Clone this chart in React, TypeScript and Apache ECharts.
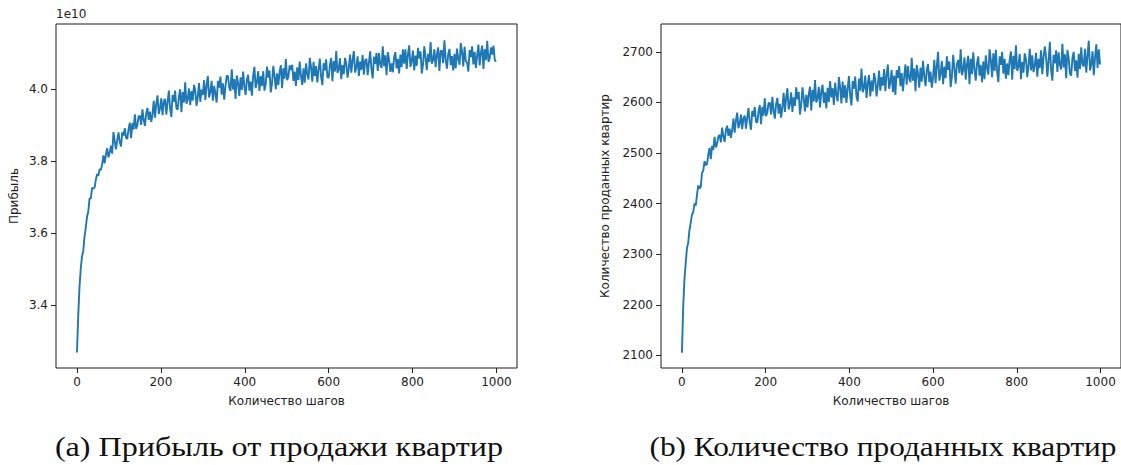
import React, { useEffect, useRef } from "react";
import * as echarts from "echarts";

// Simulation steps at which values are plotted: 0, 3, 6, ..., 999
const steps: number[] = Array.from({ length: 334 }, (_, i) => i * 3);

// Profit from flat sales, in units of 1e10
const profitE10: number[] = [
  3.268, 3.37, 3.45, 3.5, 3.535, 3.55, 3.59, 3.615, 3.645, 3.66,
  3.696, 3.695, 3.725, 3.723, 3.726, 3.748, 3.763, 3.759, 3.777, 3.775,
  3.79, 3.815, 3.793, 3.818, 3.835, 3.81, 3.823, 3.842, 3.82, 3.88,
  3.854, 3.832, 3.858, 3.879, 3.852, 3.84, 3.879, 3.87, 3.891, 3.864,
  3.861, 3.889, 3.906, 3.863, 3.905, 3.887, 3.929, 3.889, 3.899, 3.924,
  3.925, 3.9, 3.943, 3.914, 3.897, 3.932, 3.947, 3.914, 3.937, 3.908,
  3.929, 3.967, 3.92, 3.958, 3.982, 3.93, 3.945, 3.974, 3.927, 3.965,
  3.972, 3.928, 3.964, 3.995, 3.946, 3.922, 3.983, 3.964, 3.995, 3.946,
  3.942, 3.978, 3.999, 3.935, 3.991, 3.962, 4.018, 3.959, 3.97, 4.001,
  3.955, 3.994, 3.967, 4.011, 3.995, 3.953, 3.977, 4.016, 3.964, 3.998,
  3.983, 4.024, 3.969, 4.01, 4.036, 3.976, 3.991, 4.022, 3.967, 4.008,
  3.987, 3.962, 4.022, 4.003, 4.034, 3.984, 4.015, 3.97, 4.006, 4.037,
  4.035, 4.004, 3.994, 4.054, 3.998, 4.027, 3.972, 4.037, 4.016, 3.98,
  4.032, 3.997, 4.048, 4.008, 3.983, 4.024, 4.039, 3.995, 4.02, 3.981,
  4.036, 4.061, 4.002, 4.018, 4.049, 3.994, 4.035, 4.008, 4.049, 3.995,
  4.013, 4.062, 4.031, 4.051, 3.99, 4.015, 4.064, 4.035, 3.999, 4.043,
  4.01, 4.046, 4.066, 4.002, 4.057, 4.028, 4.083, 4.024, 4.034, 4.065,
  4.052, 4.067, 4.022, 4.048, 4.008, 4.06, 4.025, 4.076, 4.036, 4.011,
  4.057, 4.017, 4.071, 4.041, 4.026, 4.086, 4.06, 4.02, 4.075, 4.035,
  4.063, 4.018, 4.054, 4.084, 4.034, 4.01, 4.071, 4.051, 4.082, 4.033,
  4.03, 4.066, 4.086, 4.021, 4.077, 4.048, 4.105, 4.044, 4.054, 4.085,
  4.027, 4.066, 4.041, 4.086, 4.071, 4.031, 4.056, 4.095, 4.045, 4.08,
  4.105, 4.045, 4.06, 4.09, 4.036, 4.076, 4.053, 4.094, 4.039, 4.079,
  4.083, 4.038, 4.073, 4.104, 4.054, 4.029, 4.089, 4.069, 4.1, 4.05,
  4.099, 4.068, 4.058, 4.118, 4.063, 4.093, 4.038, 4.102, 4.082, 4.047,
  4.071, 4.046, 4.087, 4.102, 4.057, 4.083, 4.043, 4.095, 4.06, 4.11,
  4.07, 4.11, 4.055, 4.095, 4.121, 4.061, 4.076, 4.106, 4.051, 4.092,
  4.064, 4.114, 4.084, 4.104, 4.043, 4.068, 4.118, 4.087, 4.052, 4.097,
  4.075, 4.13, 4.07, 4.08, 4.11, 4.06, 4.095, 4.115, 4.05, 4.105,
  4.106, 4.071, 4.135, 4.081, 4.056, 4.096, 4.111, 4.066, 4.091, 4.051,
  4.097, 4.057, 4.112, 4.082, 4.067, 4.127, 4.102, 4.062, 4.117, 4.077,
  4.073, 4.048, 4.108, 4.088, 4.118, 4.068, 4.103, 4.058, 4.093, 4.123,
  4.065, 4.1, 4.12, 4.055, 4.11, 4.08, 4.133, 4.075, 4.085, 4.115,
  4.095, 4.12, 4.08, 4.075,
];

// Number of flats sold
const flatsSold: number[] = [
  2105, 2195, 2250, 2282, 2312, 2322, 2348, 2362, 2378, 2383,
  2400, 2396, 2417, 2436, 2430, 2433, 2461, 2465, 2484, 2476,
  2478, 2497, 2510, 2488, 2514, 2506, 2532, 2511, 2518, 2533,
  2536, 2521, 2550, 2533, 2522, 2545, 2554, 2534, 2548, 2530,
  2545, 2568, 2540, 2564, 2580, 2549, 2558, 2576, 2547, 2569,
  2574, 2548, 2570, 2589, 2560, 2546, 2583, 2572, 2591, 2562,
  2560, 2582, 2595, 2557, 2591, 2574, 2608, 2573, 2580, 2599,
  2599, 2576, 2611, 2584, 2568, 2597, 2609, 2578, 2597, 2570,
  2590, 2619, 2581, 2609, 2628, 2586, 2597, 2620, 2581, 2610,
  2593, 2630, 2606, 2621, 2576, 2595, 2630, 2608, 2582, 2615,
  2590, 2617, 2631, 2584, 2625, 2602, 2644, 2600, 2608, 2631,
  2590, 2622, 2635, 2599, 2620, 2588, 2629, 2601, 2642, 2610,
  2628, 2595, 2639, 2615, 2602, 2650, 2630, 2598, 2641, 2609,
  2634, 2599, 2627, 2652, 2613, 2594, 2642, 2627, 2651, 2612,
  2602, 2647, 2623, 2667, 2620, 2629, 2653, 2609, 2637, 2654,
  2612, 2643, 2622, 2658, 2645, 2612, 2633, 2663, 2623, 2650,
  2633, 2666, 2622, 2655, 2675, 2627, 2640, 2664, 2620, 2653,
  2615, 2664, 2648, 2672, 2632, 2658, 2622, 2651, 2675, 2635,
  2672, 2648, 2640, 2688, 2643, 2667, 2622, 2674, 2657, 2629,
  2669, 2641, 2682, 2652, 2632, 2664, 2676, 2640, 2661, 2629,
  2649, 2684, 2638, 2672, 2700, 2643, 2657, 2682, 2636, 2671,
  2648, 2691, 2664, 2681, 2630, 2651, 2694, 2667, 2637, 2676,
  2684, 2658, 2705, 2654, 2664, 2689, 2645, 2675, 2692, 2636,
  2686, 2656, 2699, 2665, 2643, 2678, 2691, 2653, 2674, 2640,
  2681, 2646, 2693, 2668, 2655, 2705, 2684, 2650, 2697, 2662,
  2704, 2661, 2640, 2691, 2674, 2700, 2657, 2686, 2647, 2677,
  2654, 2684, 2701, 2645, 2692, 2666, 2713, 2662, 2671, 2696,
  2646, 2680, 2659, 2697, 2685, 2650, 2672, 2706, 2663, 2693,
  2660, 2673, 2698, 2651, 2686, 2668, 2703, 2656, 2690, 2711,
  2690, 2651, 2681, 2720, 2664, 2643, 2694, 2677, 2703, 2660,
  2699, 2674, 2665, 2716, 2669, 2695, 2648, 2704, 2687, 2657,
  2653, 2688, 2700, 2662, 2683, 2649, 2696, 2666, 2709, 2675,
  2671, 2706, 2659, 2693, 2722, 2663, 2676, 2701, 2654, 2689,
  2715, 2668, 2705, 2675,
];

const xTicks = [0, 200, 400, 600, 800, 1000];
const profitTicks = [3.4, 3.6, 3.8, 4.0];
const soldTicks = [2100, 2200, 2300, 2400, 2500, 2600, 2700];

const xTitle = "Количество шагов";
const profitTitle = "Прибыль";
const soldTitle = "Количество проданных квартир";
const captionA = "(a) Прибыль от продажи квартир";
const captionB = "(b) Количество проданных квартир";

const LINE = "#1f77b4";
const INK = "#222222";
const SANS = "DejaVu Sans";

function xAxisFor(gridIndex: number) {
  return {
    type: "value",
    gridIndex,
    min: -50,
    max: 1049,
    splitLine: { show: false },
    axisLine: { show: false, onZero: false },
    axisTick: {
      show: true,
      length: 5,
      customValues: xTicks,
      lineStyle: { color: INK, width: 1 },
    },
    axisLabel: {
      customValues: xTicks,
      margin: 8,
      color: INK,
      fontFamily: SANS,
      fontSize: 12,
      formatter: (v: number) => String(v),
    },
    name: xTitle,
    nameLocation: "middle",
    nameGap: 27,
    nameTextStyle: { color: INK, fontFamily: SANS, fontSize: 12 },
  };
}

function yAxisFor(
  gridIndex: number,
  min: number,
  max: number,
  ticks: number[],
  name: string,
  nameGap: number,
  fmt: (v: number) => string
) {
  return {
    type: "value",
    gridIndex,
    min,
    max,
    splitLine: { show: false },
    axisLine: { show: false, onZero: false },
    axisTick: {
      show: true,
      length: 5,
      customValues: ticks,
      lineStyle: { color: INK, width: 1 },
    },
    axisLabel: {
      customValues: ticks,
      margin: 8,
      color: INK,
      fontFamily: SANS,
      fontSize: 12,
      formatter: fmt,
    },
    name,
    nameLocation: "middle",
    nameGap,
    nameTextStyle: { color: INK, fontFamily: SANS, fontSize: 12 },
  };
}

export default function App() {
  const ref = useRef<HTMLDivElement>(null);

  useEffect(() => {
    if (!ref.current) return;
    const chart = echarts.init(ref.current, null, { renderer: "svg" });

    const frame = {
      show: true,
      borderColor: "#1a1a1a",
      borderWidth: 1,
      backgroundColor: "transparent",
      containLabel: false,
    };

    const captionStyle = {
      fill: "#111",
      font: '27px "Liberation Serif"',
      textAlign: "center",
      textVerticalAlign: "middle",
    };

    chart.setOption({
      animation: false,
      backgroundColor: "#ffffff",
      grid: [
        { ...frame, left: 56, top: 24, width: 461, height: 344 },
        { ...frame, left: 661, top: 24, width: 461, height: 344 },
      ],
      xAxis: [xAxisFor(0), xAxisFor(1)],
      yAxis: [
        yAxisFor(0, 3.225, 4.18, profitTicks, profitTitle, 36, (v) => v.toFixed(1)),
        yAxisFor(1, 2075, 2755, soldTicks, soldTitle, 50, (v) => String(v)),
      ],
      series: [
        {
          type: "line",
          xAxisIndex: 0,
          yAxisIndex: 0,
          showSymbol: false,
          lineStyle: { color: LINE, width: 1.9 },
          data: steps.map((s, i) => [s, profitE10[i]]),
        },
        {
          type: "line",
          xAxisIndex: 1,
          yAxisIndex: 1,
          showSymbol: false,
          lineStyle: { color: LINE, width: 1.9 },
          data: steps.map((s, i) => [s, flatsSold[i]]),
        },
      ],
      graphic: [
        {
          type: "text",
          left: 56,
          top: 8,
          style: { text: "1e10", fill: INK, font: `12px "${SANS}"` },
        },
        {
          type: "text",
          x: 279,
          y: 447,
          scaleX: 1.19,
          style: { ...captionStyle, text: captionA },
        },
        {
          type: "text",
          x: 883,
          y: 447,
          scaleX: 1.16,
          style: { ...captionStyle, text: captionB },
        },
      ],
    });

    return () => chart.dispose();
  }, []);

  return (
    <div
      ref={ref}
      style={{ position: "fixed", left: 0, top: 0, width: 1121, height: 465, background: "#fff" }}
    />
  );
}
